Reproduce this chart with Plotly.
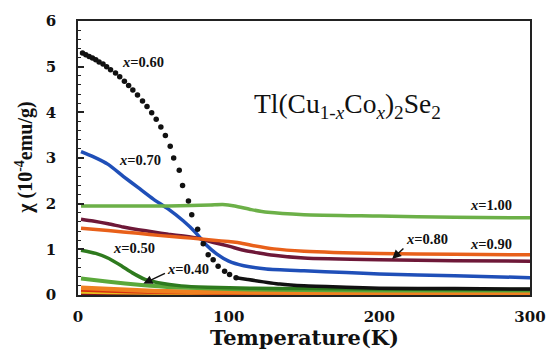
import plotly.graph_objects as go

# Magnetic susceptibility of Tl(Cu1-xCox)2Se2 versus temperature

# x = 1.00
T_100 = [2, 20, 40, 60, 75, 88, 96, 104, 115, 126, 150, 200, 250, 300]
chi_100 = [1.95, 1.95, 1.95, 1.95, 1.96, 1.97, 1.98, 1.95, 1.87, 1.81, 1.76, 1.73, 1.70, 1.69]

# x = 0.90
T_090 = [2, 20, 40, 55, 70, 80, 90, 100, 106, 115, 130, 150, 200, 250, 300]
chi_090 = [1.46, 1.41, 1.35, 1.30, 1.26, 1.23, 1.20, 1.17, 1.15, 1.09, 1.01, 0.96, 0.91, 0.89, 0.88]

# x = 0.80
T_080 = [2, 10, 20, 30, 40, 50, 60, 70, 80, 90, 100, 110, 120, 130, 150, 200, 250, 300]
chi_080 = [1.66, 1.62, 1.56, 1.49, 1.43, 1.38, 1.33, 1.29, 1.24, 1.15, 1.07, 0.98, 0.92, 0.87, 0.81, 0.77, 0.75, 0.74]

# x = 0.70
T_070 = [2, 10, 20, 30, 40, 50, 60, 70, 78, 85, 92, 100, 110, 125, 150, 178, 200, 250, 300]
chi_070 = [3.14, 3.03, 2.86, 2.60, 2.35, 2.10, 1.88, 1.62, 1.37, 1.10, 0.90, 0.74, 0.64, 0.57, 0.53, 0.49, 0.46, 0.42, 0.38]

# x = 0.60 (measured points, low temperature)
T_060 = [3.0, 5.2, 7.4, 9.6, 11.8, 14.0, 16.6, 19.0, 21.6, 24.9, 27.7, 30.8, 33.6, 36.4,
         39.5, 42.8, 45.8, 48.9, 51.9, 55.0, 58.0, 61.2, 63.5, 67.2, 69.4, 73.3, 75.5,
         79.4, 83.1, 86.4, 89.7, 93.0, 97.3, 100.6, 104.9]
chi_060 = [5.30, 5.26, 5.22, 5.19, 5.15, 5.10, 5.06, 5.00, 4.93, 4.86, 4.78, 4.68, 4.59, 4.49,
           4.38, 4.25, 4.13, 3.99, 3.85, 3.68, 3.49, 3.26, 3.00, 2.73, 2.40, 2.06, 1.76,
           1.44, 1.12, 0.88, 0.77, 0.63, 0.52, 0.45, 0.38]
# x = 0.60 (high temperature)
T_060_hi = [104.9, 112.6, 134, 150, 178, 200, 250, 300]
chi_060_hi = [0.38, 0.34, 0.24, 0.20, 0.17, 0.15, 0.14, 0.13]

# x = 0.50
T_050 = [2, 11.8, 20.5, 29.2, 35.8, 44.5, 53.2, 68.5, 86, 114, 150, 200, 250, 300]
chi_050 = [0.98, 0.91, 0.80, 0.63, 0.49, 0.34, 0.27, 0.20, 0.17, 0.15, 0.14, 0.13, 0.12, 0.12]

# x = 0.40
T_040 = [2, 20.5, 42, 64, 114, 150, 200, 250, 300]
chi_040 = [0.36, 0.29, 0.22, 0.17, 0.12, 0.11, 0.10, 0.10, 0.10]

# low-Co samples near zero
T_low = [2, 20, 50, 100, 150, 200, 300]
chi_030 = [0.16, 0.13, 0.09, 0.06, 0.05, 0.05, 0.04]
chi_020 = [0.11, 0.09, 0.06, 0.04, 0.04, 0.03, 0.03]
chi_010 = [0.06, 0.05, 0.04, 0.03, 0.02, 0.02, 0.02]
chi_000 = [0.02, 0.02, 0.01, 0.01, 0.01, 0.01, 0.01]

x_ticks = [0, 100, 200, 300]
y_ticks = [0, 1, 2, 3, 4, 5, 6]

fig = go.Figure()


def curve(T, chi, color, width=3.5):
    fig.add_trace(go.Scatter(x=T, y=chi, mode="lines",
                             line=dict(color=color, width=width, shape="spline", smoothing=0.6),
                             showlegend=False, hoverinfo="skip"))


curve(T_low, chi_000, "#8b1020", 2.5)
curve(T_low, chi_010, "#e8c020", 3)
curve(T_low, chi_020, "#d83010", 3.5)
curve(T_low, chi_030, "#f08020", 4.5)
curve(T_040, chi_040, "#5aa83a", 4)
curve(T_050, chi_050, "#2e7a1e", 3.5)
curve(T_060_hi, chi_060_hi, "#111111", 3.5)
curve(T_070, chi_070, "#1f4fb8", 3.5)
curve(T_080, chi_080, "#6e1838", 3.5)
curve(T_090, chi_090, "#e8601a", 3.5)
curve(T_100, chi_100, "#6cb048", 3.5)

fig.add_trace(go.Scatter(x=T_060, y=chi_060, mode="markers",
                         marker=dict(color="#111111", size=5.5),
                         showlegend=False, hoverinfo="skip"))

label_font = dict(family="Liberation Serif", size=14.5, color="#111111", weight="bold")

labels = [
    ("0.60", 43.4, 5.10),
    ("0.70", 41.2, 2.95),
    ("0.50", 37.4, 1.02),
    ("0.40", 72.9, 0.56),
    ("1.00", 274, 1.97),
    ("0.80", 231.7, 1.22),
    ("0.90", 274, 1.12),
]
for val, tx, ty in labels:
    fig.add_annotation(x=tx, y=ty, xref="x", yref="y", text="<i>x</i>=" + val,
                       showarrow=False, font=label_font)

# pointer arrows for x=0.40 and x=0.80
for (x_tip, y_tip, x_tail, y_tail) in [(43.4, 0.25, 58.7, 0.49), (208.5, 0.79, 217, 1.05)]:
    fig.add_annotation(x=x_tip, y=y_tip, ax=x_tail, ay=y_tail, xref="x", yref="y",
                       axref="x", ayref="y", text="", showarrow=True,
                       arrowhead=2, arrowsize=1.2, arrowwidth=1.5, arrowcolor="#111111")

fig.add_annotation(x=179, y=4.14, xref="x", yref="y",
                   text="Tl(Cu<sub>1-<i>x</i></sub>Co<sub><i>x</i></sub>)<sub>2</sub>Se<sub>2</sub>",
                   showarrow=False,
                   font=dict(family="Liberation Serif", size=27.5, color="#111111"))

fig.add_annotation(x=0.5, y=-0.155, xref="paper", yref="paper", text="Temperature(K)",
                   showarrow=False, xanchor="center", yanchor="middle",
                   font=dict(family="DejaVu Serif", size=21, color="#111111", weight="bold"))
fig.add_annotation(x=-0.12, y=0.5, xref="paper", yref="paper",
                   text="χ (10<sup>-4</sup>emu/g)", textangle=-90,
                   showarrow=False, xanchor="center", yanchor="middle",
                   font=dict(family="Liberation Serif", size=20, color="#111111", weight="bold"))

tick_font = dict(family="DejaVu Serif", size=15, color="#111111", weight="bold")

fig.update_xaxes(range=[0, 300], tickvals=x_ticks, ticks="", showgrid=False, zeroline=False,
                 showline=True, linecolor="#222222", linewidth=1.8, mirror=True,
                 tickfont=tick_font, ticklabelstandoff=7)
fig.update_yaxes(range=[0, 6], tickvals=y_ticks, ticks="inside", ticklen=6, tickwidth=1.5,
                 tickcolor="#222222", showgrid=False, zeroline=False,
                 showline=True, linecolor="#222222", linewidth=1.8, mirror=True,
                 tickfont=tick_font, ticklabelstandoff=17,
                 minor=dict(dtick=0.2, ticks="inside", ticklen=3.5, tickwidth=1.2,
                            tickcolor="#222222", showgrid=False))

fig.update_layout(width=558, height=354, margin=dict(l=78, r=22, t=13, b=59),
                  paper_bgcolor="white", plot_bgcolor="white")

fig.write_html("out.html")
